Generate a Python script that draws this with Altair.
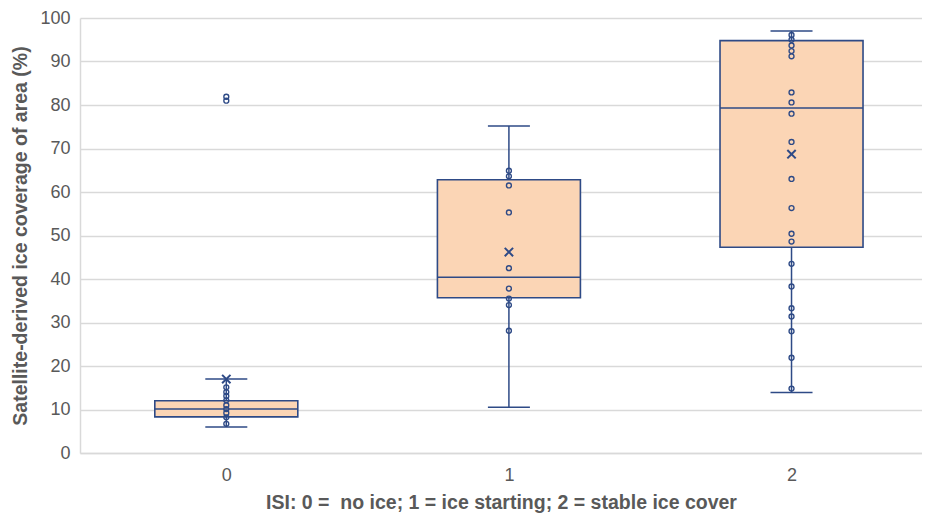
import altair as alt
import pandas as pd

# ---- data ----
categories = [0, 1, 2]
whisker_low = [6.0, 10.5, 13.9]
q1 = [8.3, 35.7, 47.3]
median = [10.1, 40.4, 79.3]
q3 = [12.0, 62.8, 94.8]
whisker_high = [17.0, 75.2, 97.0]
means = [17.0, 46.2, 68.7]

points0 = [6.7, 8.2, 9.2, 10.1, 11.0, 12.1, 13.1, 14.0, 15.1, 81.0, 81.9]
points1 = [28.1, 34.0, 35.5, 37.8, 42.5, 55.3, 61.5, 63.6, 64.9]
points2 = [14.8, 21.9, 28.0, 31.4, 33.3, 38.3, 43.5, 48.6, 50.4, 56.3,
           63.0, 71.5, 78.0, 80.6, 82.9, 91.2, 92.4, 93.7, 95.0, 96.1]

y_ticks = [0, 10, 20, 30, 40, 50, 60, 70, 80, 90, 100]
x_title = "ISI: 0 =\u00a0 no ice; 1 = ice starting; 2 = stable ice cover"
y_title = "Satellite-derived ice coverage of area (%)"

summary = pd.DataFrame({
    "cat": categories, "lo": whisker_low, "q1": q1, "med": median,
    "q3": q3, "hi": whisker_high, "mean": means,
})
pts = pd.DataFrame({
    "cat": [0] * len(points0) + [1] * len(points1) + [2] * len(points2),
    "value": points0 + points1 + points2,
})

LINE = "#2E4A86"
FILL = "#FBD5B5"
GRID = "#D9D9D9"
TXT = "#595959"
FONT = "Liberation Sans"

xscale = alt.Scale(domain=[-0.5, 2.444], nice=False, zero=False)
xaxis = alt.Axis(values=categories, title=x_title, grid=False, ticks=False,
                 format="d", labelPadding=13, titlePadding=9,
                 domainColor=GRID, domainWidth=1.5)
yscale = alt.Scale(domain=[0, 100], nice=False)
yaxis = alt.Axis(values=y_ticks, title=y_title, grid=True, gridColor=GRID,
                 gridWidth=1.5, ticks=False, labelPadding=10, titlePadding=9,
                 domainColor=GRID, domainWidth=1.5)


def X():
    return alt.X("cat:Q", scale=xscale, axis=xaxis)


def Y(field):
    return alt.Y(f"{field}:Q", scale=yscale, axis=yaxis)


base = alt.Chart(summary)

whisker = base.mark_rule(color=LINE, strokeWidth=1.5).encode(
    x=X(), y=Y("lo"), y2="hi")
box = base.mark_bar(size=143, fill=FILL, stroke=LINE, strokeWidth=1.6).encode(
    x=X(), y=Y("q1"), y2="q3")
med = base.mark_tick(orient="horizontal", size=143, thickness=1.5,
                     color=LINE, opacity=1).encode(x=X(), y=Y("med"))
cap_lo = base.mark_tick(orient="horizontal", size=42, thickness=1.5,
                        color=LINE, opacity=1).encode(x=X(), y=Y("lo"))
cap_hi = base.mark_tick(orient="horizontal", size=42, thickness=1.5,
                        color=LINE, opacity=1).encode(x=X(), y=Y("hi"))
dots = alt.Chart(pts).mark_point(shape="circle", size=24, filled=False,
                                 stroke=LINE, strokeWidth=1.4, opacity=1).encode(
    x=X(), y=Y("value"))
mean_mark = base.mark_point(shape="M-1,-1L1,1M-1,1L1,-1", size=70, filled=False,
                            stroke=LINE, strokeWidth=2, opacity=1).encode(
    x=X(), y=Y("mean"))

chart = alt.layer(whisker, box, med, cap_lo, cap_hi, dots, mean_mark).properties(
    width=842, height=435,
    autosize=alt.AutoSizeParams(type="none"),
    padding={"left": 72, "top": 10, "right": 0, "bottom": 60},
).configure_view(stroke=None).configure_axis(
    labelFont=FONT, labelFontSize=18, labelColor=TXT,
    titleFont=FONT, titleFontSize=19.5, titleFontWeight="bold", titleColor=TXT,
)

chart.save("out.html", embed_options={"renderer": "svg", "actions": False})
